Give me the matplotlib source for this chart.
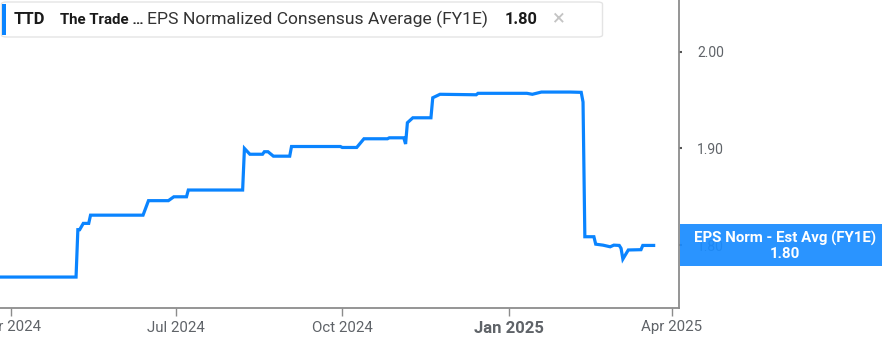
import matplotlib
matplotlib.use("Agg")
import matplotlib.pyplot as plt
from matplotlib.patches import FancyBboxPatch, Rectangle
import pandas as pd

dates = ["2024-03-26", "2024-05-07", "2024-05-08", "2024-05-09", "2024-05-11", "2024-05-14",
         "2024-05-15", "2024-06-13", "2024-06-16", "2024-06-27", "2024-06-30", "2024-07-07",
         "2024-07-08", "2024-08-07", "2024-08-08", "2024-08-11", "2024-08-18", "2024-08-19",
         "2024-08-21", "2024-08-24", "2024-09-02", "2024-09-03", "2024-09-30", "2024-10-01",
         "2024-10-09", "2024-10-13", "2024-10-26", "2024-10-27", "2024-11-04", "2024-11-05",
         "2024-11-06", "2024-11-09", "2024-11-19", "2024-11-20", "2024-11-24", "2024-12-14",
         "2024-12-15", "2025-01-11", "2025-01-14", "2025-01-19", "2025-02-04", "2025-02-10",
         "2025-02-11", "2025-02-12", "2025-02-17", "2025-02-18", "2025-02-22", "2025-02-26",
         "2025-02-28", "2025-03-03", "2025-03-04", "2025-03-05", "2025-03-08", "2025-03-15",
         "2025-03-16", "2025-03-22"]
eps = [1.767, 1.767, 1.816, 1.816, 1.8225, 1.8225,
       1.831, 1.831, 1.846, 1.846, 1.850, 1.850,
       1.857, 1.857, 1.900, 1.894, 1.894, 1.8966,
       1.8966, 1.892, 1.892, 1.902, 1.902, 1.901,
       1.901, 1.910, 1.910, 1.911, 1.911, 1.9046,
       1.9266, 1.9317, 1.9317, 1.9524, 1.956, 1.9555,
       1.957, 1.957, 1.956, 1.9583, 1.9583, 1.958,
       1.948, 1.8087, 1.8087, 1.801, 1.800, 1.7983,
       1.800, 1.7997, 1.7967, 1.7856, 1.795, 1.7953,
       1.7997, 1.7997]

ytick_vals = [1.80, 1.90, 2.00]
ytick_labels = ["1.80", "1.90", "2.00"]
xtick_dates = ["2024-04-01", "2024-07-01", "2024-10-01", "2025-01-01", "2025-04-01"]
xtick_labels = ["Apr 2024", "Jul 2024", "Oct 2024", "Jan 2025", "Apr 2025"]

ticker = "TTD"
company = "The Trade \u2026"
series_name = "EPS Normalized Consensus Average (FY1E)"
last_value = "1.80"
badge_name = "EPS Norm - Est Avg (FY1E)"

LINE = "#0a84ff"
BADGE = "#1a8cff"
GRAY = "#5f6368"
SPINE = "#8c8c8c"

W, H = 882, 337
fig = plt.figure(figsize=(W / 100, H / 100), dpi=100)
ax = fig.add_axes([0, 29 / H, 679 / W, 1 - 29 / H])

x = pd.to_datetime(dates)
ax.plot(x, eps, color=LINE, lw=2.3, solid_joinstyle="miter")

ax.set_xlim(pd.Timestamp("2024-03-26"), pd.Timestamp("2025-04-05"))
ax.set_ylim(1.735, 2.0535)

for s in ["top", "left"]:
    ax.spines[s].set_visible(False)
for s in ["right", "bottom"]:
    ax.spines[s].set_color(SPINE)
    ax.spines[s].set_linewidth(1.3)

ax.yaxis.tick_right()
ax.set_yticks(ytick_vals)
ax.set_yticklabels(ytick_labels)
ax.tick_params(axis="y", length=2, width=1.5, color="#555555", pad=11,
               labelsize=10, labelcolor=GRAY)

ax.set_xticks(pd.to_datetime(xtick_dates))
ax.set_xticklabels(xtick_labels)
ax.tick_params(axis="x", length=6, width=1, color=SPINE, pad=3,
               labelsize=10.8, labelcolor=GRAY)
for lab in ax.get_xticklabels():
    lab.set_fontfamily(["Roboto", "DejaVu Sans"])
    if lab.get_text() == "Jan 2025":
        lab.set_fontweight("bold")
        lab.set_fontsize(12)
        lab.set_y(-0.003)
for lab in ax.get_yticklabels():
    lab.set_fontfamily(["Roboto", "DejaVu Sans"])

# header box
hdr = FancyBboxPatch((1.5 / W, 1 - 37 / H), 601 / W, 35 / H,
                     boxstyle="round,pad=0,rounding_size=0.006",
                     transform=fig.transFigure, facecolor="white",
                     edgecolor="#e4e4e4", lw=1, zorder=5)
fig.patches.append(hdr)
fig.patches.append(Rectangle((2 / W, 1 - 35 / H), 3.5 / W, 31 / H,
                             transform=fig.transFigure, facecolor=LINE,
                             edgecolor="none", zorder=6))
ty = 1 - 19.5 / H
fam = ["Roboto", "DejaVu Sans"]
fig.text(14 / W, ty, ticker, fontsize=12, fontweight="bold", color="#1a1a1a",
         va="center", family=fam, zorder=7)
fig.text(60 / W, ty, company, fontsize=10.8, fontweight="bold", color="#1a1a1a",
         va="center", family=fam, zorder=7)
fig.text(147 / W, ty, series_name, fontsize=12.6, color="#333333",
         va="center", family=fam, zorder=7)
fig.text(505 / W, ty, last_value, fontsize=11.8, fontweight="bold", color="#1a1a1a",
         va="center", family=fam, zorder=7)
fig.text(552 / W, ty, "\u00d7", fontsize=16, color="#c4c4c4",
         va="center", family=fam, zorder=7)

# right badge
fig.patches.append(Rectangle((680 / W, 1 - 266 / H), 202 / W, 42 / H,
                             transform=fig.transFigure, facecolor=BADGE,
                             edgecolor="none", alpha=0.93, zorder=8))
fig.text(785 / W, 1 - 238 / H, badge_name, fontsize=10.8, fontweight="bold",
         color="white", ha="center", va="center", family=fam, zorder=9)
fig.text(785 / W, 1 - 253.5 / H, last_value, fontsize=10.8, fontweight="bold",
         color="white", ha="center", va="center", family=fam, zorder=9)

fig.savefig("out.png", dpi=100)
